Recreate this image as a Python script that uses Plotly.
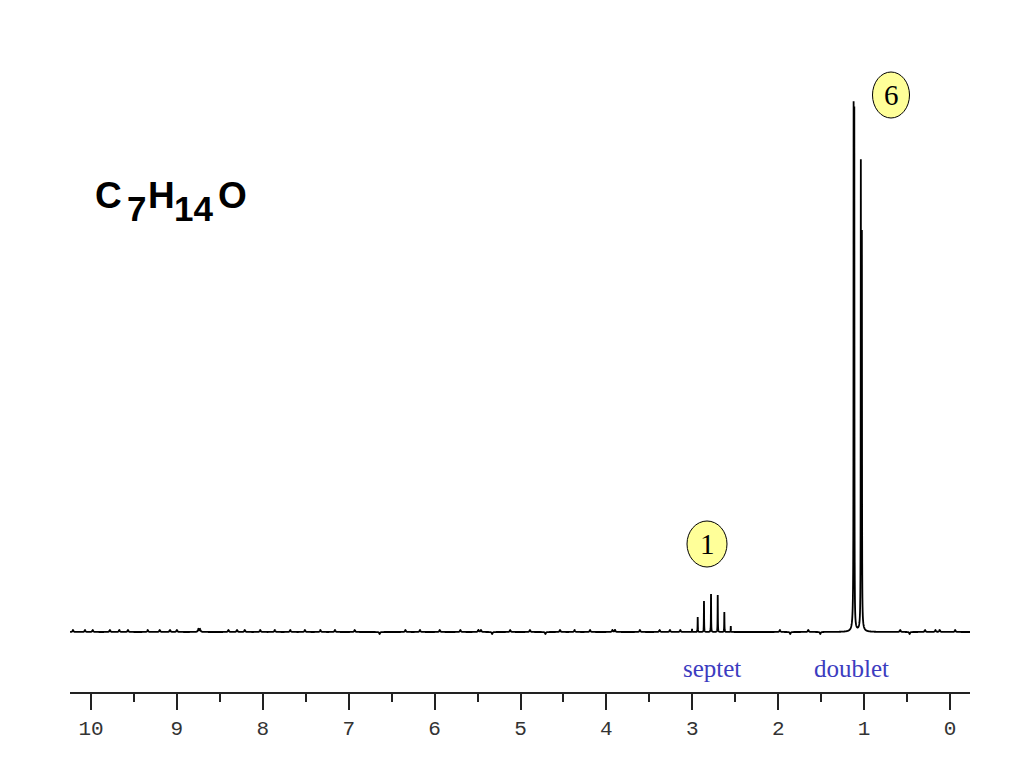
import numpy as np
import plotly.graph_objects as go

# ---- data ----
# sharp lines: chemical shift (ppm) and height (px above baseline)
line_ppm = [3.003, 2.937, 2.864, 2.782, 2.704, 2.627, 2.552,
            1.122, 1.114, 1.038, 1.026]
line_height = [3, 15, 31, 38, 37, 20, 6,
               498, 498, 455, 380]
# broad base under the doublet
broad_ppm = [1.125, 1.030]
broad_height = [14, 15]
# small baseline blips
blip_ppm = [10.21, 10.07, 9.98, 9.78, 9.67, 9.57, 9.34, 9.20, 9.08, 9.00,
            8.75, 8.73, 8.40, 8.30, 8.21, 8.03, 7.86, 7.68, 7.51, 7.33,
            7.16, 6.93, 6.64, 6.34, 6.17, 5.94, 5.70, 5.49, 5.46, 5.33,
            5.12, 4.89, 4.71, 4.54, 4.37, 4.19, 3.93, 3.90, 3.61, 3.38,
            3.26, 3.14, 1.98, 1.86, 1.65, 1.51, 0.58, 0.47, 0.29, 0.17,
            0.12, -0.06]
blip_height = [2, 2, 2, 2, 2, 2, 2, 2, 2, 2,
               3, 3, 2, 2, 2, 2, 2, 2, 2, 2,
               2, 2, -2, 2, 2, 2, 2, 2, 2, -2,
               2, 2, -2, 2, 2, 2, 2, 2, 2, 2,
               2, 2, 2, -2, 2, -2, 2, -2, 2, 2,
               2, 2]

tick_vals = [10, 9, 8, 7, 6, 5, 4, 3, 2, 1, 0]
tick_text = ["10", "9", "8", "7", "6", "5", "4", "3", "2", "1", "0"]
minor_vals = [9.5, 8.5, 7.5, 6.5, 5.5, 4.5, 3.5, 2.5, 1.5, 0.5]

formula_parts = ["C", "7", "H", "14", "O"]
multiplets = ["septet", "doublet"]
integrals = ["1", "6"]

# ---- build the trace from the peak list ----
x = np.arange(10.244, -0.234, -0.0005)
y = np.zeros_like(x)
def lor(center, h, g):
    return h * g * g / ((x - center) ** 2 + g * g)
for c, h in zip(line_ppm, line_height):
    y += lor(c, h, 0.0016)
for c, h in zip(broad_ppm, broad_height):
    y += lor(c, h, 0.012)
for c, h in zip(blip_ppm, blip_height):
    y += lor(c, h, 0.006)

# page coordinates (px) -> data coordinates
def px2x(px):
    return (950 - px) / 85.9

def py2y(py):
    return 632 - py

fig = go.Figure()
fig.add_trace(go.Scatter(x=x, y=y, mode="lines",
                         line=dict(color="black", width=1.8, simplify=False),
                         hoverinfo="skip", showlegend=False))

fig.update_layout(
    width=1016, height=760,
    margin=dict(l=62, r=54, t=52, b=76),
    paper_bgcolor="white", plot_bgcolor="white",
    showlegend=False,
    xaxis=dict(range=[px2x(70), px2x(970)], showgrid=False, zeroline=False,
               showline=True, linecolor="#222", linewidth=1.5,
               ticks="outside", ticklen=16, tickwidth=1.5, tickcolor="#222",
               tickvals=tick_vals, ticktext=tick_text,
               tickfont=dict(family="Liberation Mono", size=21, color="#333"),
               minor=dict(tickvals=minor_vals,
                          ticks="outside", ticklen=8, tickwidth=1.5, tickcolor="#222")),
    yaxis=dict(range=[-60, 572], visible=False),
)

# formula
fpos = [(93, 195, 37), (125, 208, 35), (146, 195, 37), (172, 208, 35), (216, 195, 37)]
for t, (px, py, fs) in zip(formula_parts, fpos):
    fig.add_annotation(x=px2x(px), y=py2y(py), xref="x", yref="y", text="<b>" + t + "</b>",
                       showarrow=False, xanchor="left", yanchor="middle",
                       font=dict(family="Liberation Sans", size=fs, color="black"))

# multiplet labels
for t, (px, py) in zip(multiplets, [(712, 668), (851, 668)]):
    fig.add_annotation(x=px2x(px), y=py2y(py), xref="x", yref="y", text=t,
                       showarrow=False, xanchor="center", yanchor="middle",
                       font=dict(family="Liberation Serif", size=25, color="#3C3CC0"))

# integral circles
for t, (px, py, w, h) in zip(integrals, [(707, 544, 40, 46), (891, 95, 37, 46)]):
    fig.add_shape(type="circle", xref="x", yref="y", xsizemode="pixel", ysizemode="pixel",
                  xanchor=px2x(px), yanchor=py2y(py),
                  x0=-w / 2, x1=w / 2, y0=-h / 2, y1=h / 2,
                  fillcolor="#FFFF99", line=dict(color="black", width=1))
    fig.add_annotation(x=px2x(px), y=py2y(py), xref="x", yref="y", text=t,
                       showarrow=False, xanchor="center", yanchor="middle",
                       font=dict(family="Liberation Serif", size=29, color="black"))

fig.write_html("out.html")
